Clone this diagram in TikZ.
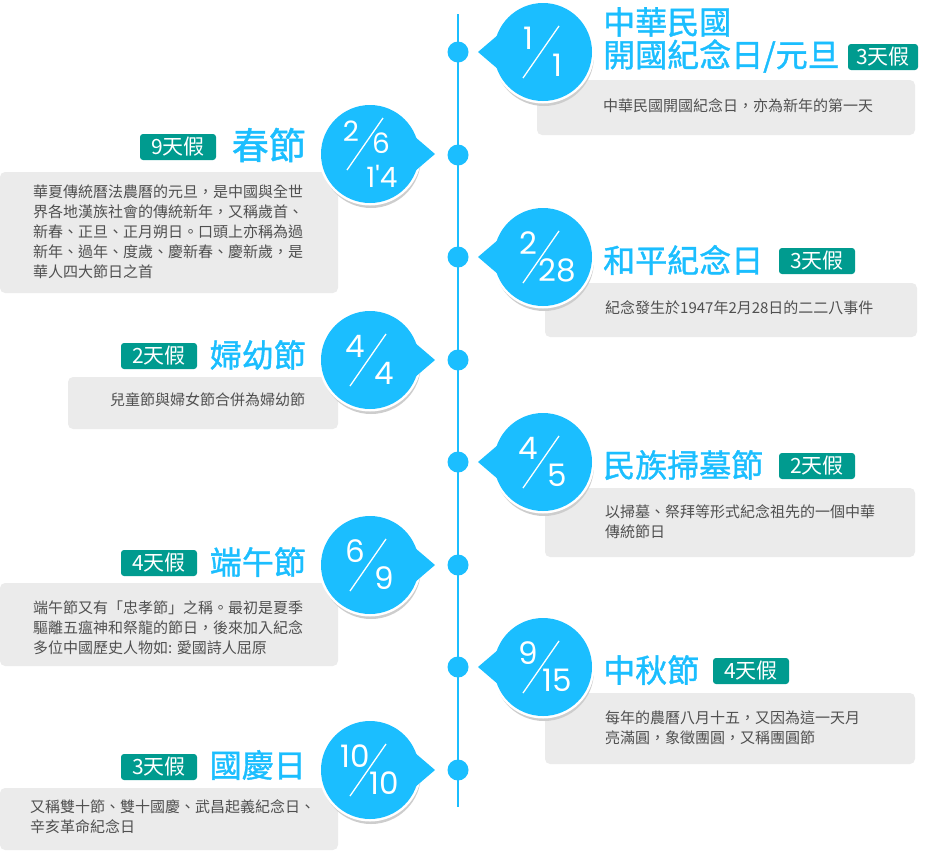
\documentclass[tikz,border=0pt]{standalone}
\usepackage{fontspec}
\setmainfont{Noto Sans CJK TC}
\newfontfamily\titlefont{Noto Sans CJK TC}[FakeBold=1.2]
\newfontfamily\datefont{Poppins}
\usetikzlibrary{calc,positioning}
\definecolor{BubbleClr}{RGB}{27,190,255}
\definecolor{BadgeClr}{RGB}{0,155,143}
\definecolor{BoxClr}{RGB}{235,235,235}
\definecolor{TextClr}{RGB}{80,80,80}
\definecolor{ShadowClr}{RGB}{205,205,205}

\newcommand{\DateBubble}[4]{%
  \fill[ShadowClr] (#2+1,#3+4) circle (50pt);
  \fill[white] (#2,#3) circle (51.5pt);
  \node[bubble] (#1) at (#2,#3) {};
  \fill[BubbleClr] ($(#1)+({#4*0.46},-30)$) -- ($(#1)+(#4,0)$) -- ($(#1)+({#4*0.46},30)$) -- cycle;
}
\newcommand{\DateFrac}[3]{%
  \node[datenum] (#1n) at ($(#1)+(-15,-14)$) {#2};
  \node[datenum] (#1d) at ($(#1)+(14,13)$) {#3};
  \draw[dateslash] ($(#1)+(-20,26)$) -- ($(#1)+(16,-26)$);
}

\begin{document}
\begin{tikzpicture}[x=1pt,y=-1pt,
  bubble/.style={circle,fill=BubbleClr,minimum size=98pt,inner sep=0pt},
  dot/.style={circle,fill=BubbleClr,minimum size=21pt,inner sep=0pt},
  timeline/.style={BubbleClr,line width=1.5pt},
  title/.style={text=BubbleClr,font=\titlefont\fontsize{32}{36}\selectfont,inner sep=0pt},
  badge/.style={fill=BadgeClr,text=white,rounded corners=3pt,minimum width=76pt,minimum height=26pt,inner sep=0pt,font=\fontsize{21}{22}\selectfont},
  infobox/.style={fill=BoxClr,rounded corners=5pt},
  info/.style={text=TextClr,font=\fontsize{15}{20}\selectfont,align=left,anchor=north west,inner sep=0pt},
  datenum/.style={text=white,font=\datefont\fontsize{31}{31}\selectfont,inner sep=0pt},
  dateslash/.style={white,line width=1.3pt}]
\useasboundingbox (0,0) rectangle (926,852);

\fill[infobox] (537,80) rectangle (915,135);
\fill[infobox] (0,172) rectangle (338,293);
\fill[infobox] (545,283) rectangle (917,337);
\fill[infobox] (68,377) rectangle (338,429);
\fill[infobox] (545,488) rectangle (915,557);
\fill[infobox] (0,583) rectangle (338,666);
\fill[infobox] (545,693) rectangle (915,764);
\fill[infobox] (0,788) rectangle (338,850);

\coordinate (ltop) at (458,14);
\coordinate (lbot) at (458,807);
\draw[timeline] (ltop) -- (lbot);

\node[dot] (d1) at (458,52) {};
\node[dot] (d2) at (458,155) {};
\node[dot] (d3) at (458,257) {};
\node[dot] (d4) at (458,360) {};
\node[dot] (d5) at (458,462) {};
\node[dot] (d6) at (458,565) {};
\node[dot] (d7) at (458,667) {};
\node[dot] (d8) at (458,770) {};

\DateBubble{b1}{543}{52}{-65}
\DateBubble{b2}{370}{154}{65}
\DateBubble{b3}{543}{257}{-65}
\DateBubble{b4}{370}{360}{65}
\DateBubble{b5}{543}{462}{-65}
\DateBubble{b6}{370}{565}{65}
\DateBubble{b7}{543}{667}{-65}
\DateBubble{b8}{370}{770}{65}

\DateFrac{b1}{1}{1}
\node[datenum,font=\datefont\fontsize{28}{28}\selectfont] (b2n) at ($(b2)+(-19,-23)$) {2};
\node[datenum,font=\datefont\fontsize{28}{28}\selectfont] (b2m) at ($(b2)+(11,-11)$) {6};
\node[datenum,font=\datefont\fontsize{28}{28}\selectfont] (b2d) at ($(b2)+(12,22)$) {1'4};
\draw[dateslash] ($(b2)+(-23,16)$) -- ($(b2)+(13,-36)$);
\DateFrac{b3}{2}{28}
\DateFrac{b4}{4}{4}
\DateFrac{b5}{4}{5}
\DateFrac{b6}{6}{9}
\DateFrac{b7}{9}{15}
\DateFrac{b8}{10}{10}

\node[title,anchor=west] (t1a) at (603,22) {中華民國};
\node[title,anchor=west] (t1b) at (603,56) {開國紀念日/元旦};
\node[title,anchor=east,font=\titlefont\fontsize{37}{40}\selectfont] (t2) at (306,145) {春節};
\node[title,anchor=west] (t3) at (603,260) {和平紀念日};
\node[title,anchor=east] (t4) at (306,355) {婦幼節};
\node[title,anchor=west] (t5) at (603,465) {民族掃墓節};
\node[title,anchor=east] (t6) at (306,562) {端午節};
\node[title,anchor=west] (t7) at (603,670) {中秋節};
\node[title,anchor=east] (t8) at (306,765) {國慶日};

\node[badge,minimum width=70pt] (g1) at (883,57) {3天假};
\node[badge] (g2) at (178,147) {9天假};
\node[badge] (g3) at (817,261) {3天假};
\node[badge] (g4) at (159,356) {2天假};
\node[badge] (g5) at (817,466) {2天假};
\node[badge] (g6) at (159,563) {4天假};
\node[badge] (g7) at (751,671) {4天假};
\node[badge] (g8) at (159,767) {3天假};

\node[info] (i1) at (603,98.5) {中華民國開國紀念日，亦為新年的第一天};
\node[info] (i2) at (33,184.5) {華夏傳統曆法農曆的元旦，是中國與全世\\界各地漢族社會的傳統新年，又稱歲首、\\新春、正旦、正月朔日。口頭上亦稱為過\\新年、過年、度歲、慶新春、慶新歲，是\\華人四大節日之首};
\node[info] (i3) at (605,300.5) {紀念發生於1947年2月28日的二二八事件};
\node[info] (i4) at (110,392.5) {兒童節與婦女節合併為婦幼節};
\node[info] (i5) at (605,504.5) {以掃墓、祭拜等形式紀念祖先的一個中華\\傳統節日};
\node[info] (i6) at (33,600.5) {端午節又有「忠孝節」之稱。最初是夏季\\驅離五瘟神和祭龍的節日，後來加入紀念\\多位中國歷史人物如: 愛國詩人屈原};
\node[info] (i7) at (605,710.5) {每年的農曆八月十五，又因為這一天月\\亮滿圓，象徵團圓，又稱團圓節};
\node[info] (i8) at (30,799.5) {又稱雙十節、雙十國慶、武昌起義紀念日、\\辛亥革命紀念日};

\end{tikzpicture}
\end{document}
